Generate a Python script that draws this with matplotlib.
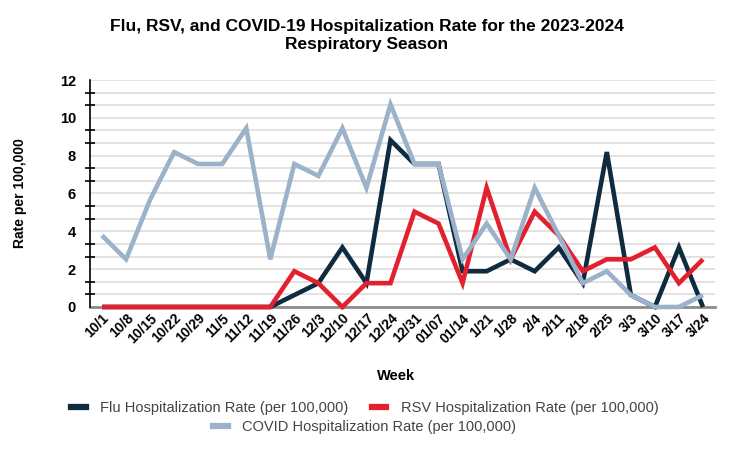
import numpy as np
import matplotlib.pyplot as plt
from matplotlib.lines import Line2D
from matplotlib.ticker import MultipleLocator

plt.rcParams['font.family'] = ['Liberation Sans Narrow', 'Liberation Sans', 'DejaVu Sans']

weeks = ["10/1", "10/8", "10/15", "10/22", "10/29", "11/5", "11/12", "11/19",
         "11/26", "12/3", "12/10", "12/17", "12/24", "12/31", "01/07", "01/14",
         "1/21", "1/28", "2/4", "2/11", "2/18", "2/25", "3/3", "3/10", "3/17", "3/24"]

flu = [0, 0, 0, 0, 0, 0, 0, 0,
       0.63, 1.26, 3.15, 1.26, 8.82, 7.56, 7.56, 1.89,
       1.89, 2.52, 1.89, 3.15, 1.26, 8.19, 0.63, 0, 3.15, 0]
rsv = [0, 0, 0, 0, 0, 0, 0, 0,
       1.89, 1.26, 0, 1.26, 1.26, 5.04, 4.41, 1.26,
       6.3, 2.52, 5.04, 3.78, 1.89, 2.52, 2.52, 3.15, 1.26, 2.52]
covid = [3.78, 2.52, 5.67, 8.19, 7.56, 7.56, 9.45, 2.52,
         7.56, 6.93, 9.45, 6.3, 10.71, 7.56, 7.56, 2.52,
         4.41, 2.52, 6.3, 3.78, 1.26, 1.89, 0.63, 0, 0, 0.63]

c_flu = "#0e2b40"
c_rsv = "#e2202e"
c_covid = "#9cb1ca"

x = np.arange(len(weeks))

fig = plt.figure(figsize=(7.34, 4.49), dpi=100)
ax = fig.add_axes([0.1226, 0.3163, 0.8515, 0.5055])

kw = dict(lw=3.3, solid_joinstyle="miter", solid_capstyle="butt", clip_on=False)
ax.plot(x, flu, color=c_flu, zorder=3, **kw)
ax.plot(x, rsv, color=c_rsv, zorder=4, **kw)
ax.plot(x, covid, color=c_covid, zorder=5, **kw)

ax.set_xlim(-0.5, len(weeks) - 0.5)
ax.set_ylim(0, 12)
ax.yaxis.set_major_locator(MultipleLocator(2))
ax.yaxis.set_minor_locator(MultipleLocator(2 / 3))
ax.grid(axis="y", which="both", color="#dddddd", lw=1.2, zorder=0)
ax.set_axisbelow(True)

for s in ["top", "right"]:
    ax.spines[s].set_visible(False)
ax.spines["left"].set_color("black")
ax.spines["left"].set_linewidth(1.2)
ax.spines["bottom"].set_color("#8c8c8c")
ax.spines["bottom"].set_linewidth(2)
ax.spines["bottom"].set_zorder(2)

ax.tick_params(axis="y", which="major", length=0, pad=10, labelsize=10.5)
ax.tick_params(axis="y", which="minor", length=7, width=1.2, direction="inout", color="black")
ax.tick_params(axis="x", length=0, pad=3, labelsize=10)

ax.set_xticks(x)
ax.set_xticklabels(weeks, rotation=45, ha="right", rotation_mode="anchor", fontweight="bold")
for t in ax.get_yticklabels():
    t.set_fontweight("bold")

ax.set_ylabel("Rate per 100,000", fontweight="bold", fontsize=10, labelpad=24)
fig.text(0.539, 0.162, "Week", ha="center", va="center", fontweight="bold", fontsize=10.5)

fig.suptitle("Flu, RSV, and COVID-19 Hospitalization Rate for the 2023-2024\nRespiratory Season",
             x=0.5, y=0.958, fontweight="bold", fontsize=12.5, linespacing=1.3)

h_flu = Line2D([], [], color=c_flu, lw=4.5)
h_rsv = Line2D([], [], color=c_rsv, lw=4.5)
h_cov = Line2D([], [], color=c_covid, lw=4.5)
lkw = dict(frameon=False, handlelength=1.0, handletextpad=1.0, fontsize=10.5,
           labelcolor="#444444", loc="center")
fig.legend([h_flu, h_rsv], ["Flu Hospitalization Rate (per 100,000)",
                            "RSV Hospitalization Rate (per 100,000)"],
           ncol=2, columnspacing=1.6, bbox_to_anchor=(0.497, 0.091), **lkw)
fig.legend([h_cov], ["COVID Hospitalization Rate (per 100,000)"],
           bbox_to_anchor=(0.497, 0.048), **lkw)

fig.savefig("out.png", dpi=100)
